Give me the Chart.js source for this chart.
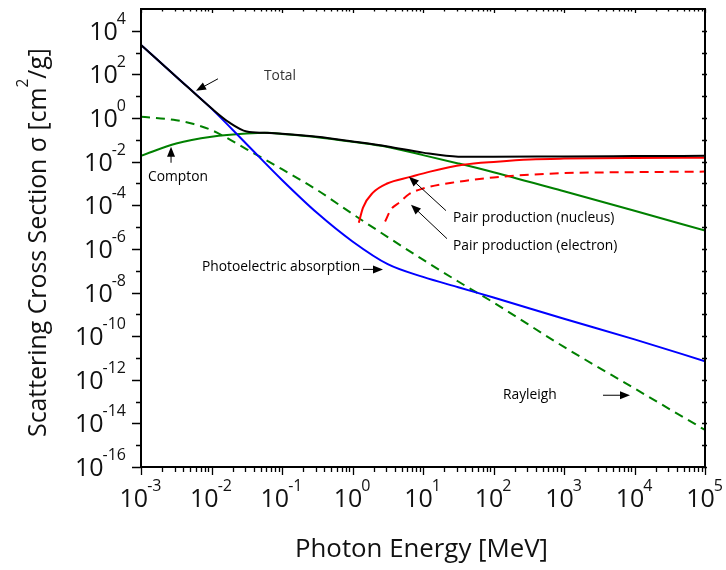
<!DOCTYPE html>
<html>
<head>
<meta charset="utf-8">
<script src="https://cdn.jsdelivr.net/npm/chart.js@4/dist/chart.umd.min.js"></script>
<style>
  html, body { margin: 0; padding: 0; background: #fff; }
  #c { display: block; }
</style>
</head>
<body>
<canvas id="c" width="726" height="570"></canvas>
<script>
// photon energy [MeV] and cross section [cm^2/g]
var eTotal = [1e-3, 3.16e-3, 1e-2, 1.78e-2, 3.16e-2, 5.62e-2, 1e-1, 3.16e-1, 1, 3.16, 10, 31.6, 100, 1e3, 1e4, 1e5]
var sTotal = [2240, 79, 2.8, 0.63, 0.24, 0.21, 0.19, 0.138, 0.085, 0.05, 0.026, 0.017, 0.0166, 0.0174, 0.018, 0.0186]

var ePhoto = [1e-3, 3.16e-3, 1e-2, 3.16e-2, 1e-1, 3.16e-1, 1, 3.16, 10, 31.6, 100, 1e3, 1e4, 1e5]
var sPhoto = [2240, 79, 2.7, 0.063, 1.45e-3, 4.4e-5, 2.2e-6, 2e-7, 5.2e-8, 1.74e-8, 5.9e-9, 6.3e-10, 7.1e-11, 7.1e-12]

var eCompton = [1e-3, 3.16e-3, 1e-2, 3.16e-2, 6.3e-2, 1e-1, 3.16e-1, 1, 3.16, 10, 31.6, 100, 1e3, 1e4, 1e5]
var sCompton = [0.0186, 0.068, 0.138, 0.195, 0.21, 0.186, 0.132, 0.081, 0.047, 0.02, 8.3e-3, 3.3e-3, 4.4e-4, 5.6e-5, 6.9e-6]

var eRayleigh = [1e-3, 3.16e-3, 5.6e-3, 1e-2, 3.16e-2, 1e-1, 3.16e-1, 1, 3.16, 10, 31.6, 100, 1e3, 1e4, 1e5]
var sRayleigh = [1.15, 0.8, 0.53, 0.28, 0.037, 4.5e-3, 5e-4, 4e-5, 3.5e-6, 3.2e-7, 3.2e-8, 3.5e-9, 3.2e-11, 4e-13, 5e-15]

var ePairN = [1.23, 1.41, 1.95, 3.1, 6.6, 12.6, 37, 112, 331, 1e3, 1e4, 1e5]
var sPairN = [1.6e-5, 7.9e-5, 3.8e-4, 1e-3, 2e-3, 3.5e-3, 7.2e-3, 0.01, 0.0126, 0.0138, 0.0148, 0.0151]

var ePairE = [2.9, 3.5, 4.7, 6.3, 10, 31.6, 100, 316, 1e3, 1e4, 1e5]
var sPairE = [1.8e-5, 6.3e-5, 1.4e-4, 3.2e-4, 5.9e-4, 1.2e-3, 1.9e-3, 2.5e-3, 3e-3, 3.3e-3, 3.5e-3]

// decades shown on the axes
var xDecades = [-3, -2, -1, 0, 1, 2, 3, 4, 5]
var yDecades = [-16, -14, -12, -10, -8, -6, -4, -2, 0, 2, 4]

// labels with arrows, positions in data units (log10 E, log10 sigma)
var notes = [
  {text: "Total", at: [-1.255, 1.93], from: [-1.908, 1.80], to: [-2.22, 1.25]},
  {text: "Compton", at: [-2.90, -2.69], from: [-2.574, -2.05], to: [-2.574, -1.32]},
  {text: "Photoelectric absorption", at: [-2.135, -6.85], from: [0.149, -6.94], to: [0.433, -6.94]},
  {text: "Pair production (nucleus)", at: [1.426, -4.57], from: [1.326, -4.245], to: [0.80, -2.69]},
  {text: "Pair production (electron)", at: [1.426, -5.89], from: [1.34, -5.53], to: [0.83, -3.97]},
  {text: "Rayleigh", at: [2.135, -12.71], from: [3.553, -12.71], to: [3.936, -12.71]}
]

var FONT = '"Open Sans", "DejaVu Sans", sans-serif'

function pts(xs, ys){
  var out = []
  for(var i=0;i<xs.length;i++) out.push({x: xs[i], y: ys[i]})
  return out
}

function line(label, xs, ys, color, dash){
  return {
    label: label,
    data: pts(xs, ys),
    borderColor: color,
    borderWidth: 2,
    borderDash: dash || [],
    pointRadius: 0,
    fill: false,
    cubicInterpolationMode: "monotone"
  }
}

function powLabel(ctx, e, px, py, mode){
  ctx.font = "25px " + FONT
  var wb = ctx.measureText("10").width
  ctx.font = "16px " + FONT
  var ex = String(e)
  var we = ctx.measureText(ex).width
  var x0, by
  if(mode == "x"){ x0 = px - (wb+we)/2; by = 507 }
  else { x0 = 127 - wb - we; by = py + 9 }
  ctx.fillStyle = "#111"
  ctx.textAlign = "left"
  ctx.textBaseline = "alphabetic"
  ctx.font = "25px " + FONT
  ctx.fillText("10", x0, by)
  ctx.font = "16px " + FONT
  ctx.fillText(ex, x0 + wb - 1, by - 16)
}

function arrow(ctx, x1, y1, x2, y2){
  var a = Math.atan2(y2-y1, x2-x1)
  ctx.strokeStyle = "#000"
  ctx.fillStyle = "#000"
  ctx.lineWidth = 1
  ctx.beginPath()
  ctx.moveTo(x1, y1)
  ctx.lineTo(x2 - 6*Math.cos(a), y2 - 6*Math.sin(a))
  ctx.stroke()
  ctx.beginPath()
  ctx.moveTo(x2, y2)
  ctx.lineTo(x2 - 10*Math.cos(a) + 4*Math.sin(a), y2 - 10*Math.sin(a) - 4*Math.cos(a))
  ctx.lineTo(x2 - 10*Math.cos(a) - 4*Math.sin(a), y2 - 10*Math.sin(a) + 4*Math.cos(a))
  ctx.closePath()
  ctx.fill()
}

var deco = {
  id: "deco",
  afterDraw: function(chart){
    var ctx = chart.ctx
    var xs = chart.scales.x, ys = chart.scales.y
    var a = chart.chartArea
    var X = function(l){ return xs.getPixelForValue(Math.pow(10, l)) }
    var Y = function(l){ return ys.getPixelForValue(Math.pow(10, l)) }
    ctx.save()

    // notes
    ctx.font = "13.8px " + FONT
    ctx.fillStyle = "#333"
    ctx.textBaseline = "middle"
    ctx.textAlign = "left"
    notes.forEach(function(n){
      ctx.fillText(n.text, X(n.at[0]), Y(n.at[1]))
      arrow(ctx, X(n.from[0]), Y(n.from[1]), X(n.to[0]), Y(n.to[1]))
    })

    // frame
    ctx.strokeStyle = "#000"
    ctx.lineWidth = 2
    ctx.beginPath()
    ctx.moveTo(a.left, a.top); ctx.lineTo(a.right, a.top); ctx.lineTo(a.right, a.bottom)
    ctx.lineTo(a.left, a.bottom); ctx.closePath()
    ctx.stroke()

    // x ticks
    ctx.lineWidth = 1.3
    ctx.beginPath()
    for(var d=-3; d<=5; d++){
      for(var m=1; m<=9; m++){
        if(d==5 && m>1) break
        var px = Math.round(X(d + Math.log10(m))) + 0.5
        var len = m==1 ? 8 : 5
        ctx.moveTo(px, a.bottom); ctx.lineTo(px, a.bottom + len)
        ctx.moveTo(px, a.top); ctx.lineTo(px, a.top + (m==1 ? 4 : 2.5))
      }
    }
    // y ticks
    for(var e=-16; e<=4; e++){
      var py = Math.round(Y(e)) + 0.5
      var l2 = (e % 2 == 0) ? 9 : 5
      ctx.moveTo(a.left - l2, py); ctx.lineTo(a.left, py)
      ctx.moveTo(a.right - 3, py); ctx.lineTo(a.right + 2, py)
    }
    ctx.stroke()

    xDecades.forEach(function(d){ powLabel(ctx, d, X(d), 0, "x") })
    yDecades.forEach(function(d){ powLabel(ctx, d, 0, Y(d), "y") })

    // x title
    ctx.fillStyle = "#111"
    ctx.textAlign = "left"
    ctx.textBaseline = "alphabetic"
    var t = "Photon Energy [MeV]"
    ctx.font = "26px " + FONT
    var w = ctx.measureText(t).width
    ctx.save()
    ctx.translate(295, 557)
    ctx.scale(253 / w, 1)
    ctx.fillText(t, 0, 0)
    ctx.restore()

    // y title
    var p1 = "Scattering Cross Section \u03c3 [cm", p2 = "2", p3 = "/g]"
    ctx.font = "26px " + FONT
    var w1 = ctx.measureText(p1).width, w3 = ctx.measureText(p3).width
    ctx.font = "16px " + FONT
    var w2 = ctx.measureText(p2).width
    var tot = w1 + w2 + w3
    ctx.save()
    ctx.translate(46, 437)
    ctx.rotate(-Math.PI/2)
    ctx.scale(389 / tot, 1)
    ctx.font = "26px " + FONT
    ctx.fillText(p1, 0, 0)
    ctx.font = "16px " + FONT
    ctx.fillText(p2, w1, -18)
    ctx.font = "26px " + FONT
    ctx.fillText(p3, w1 + w2, 0)
    ctx.restore()

    ctx.restore()
  }
}

// first dataset is drawn on top
var myChart = new Chart("c", {
  type: "line",
  data: {
    datasets: [
      line("Total", eTotal, sTotal, "#000000"),
      line("Pair (nucleus)", ePairN, sPairN, "#ff0000"),
      line("Pair (electron)", ePairE, sPairE, "#ff0000", [9, 6]),
      line("Photoelectric", ePhoto, sPhoto, "#0000ff"),
      line("Compton", eCompton, sCompton, "#008000"),
      line("Rayleigh", eRayleigh, sRayleigh, "#008000", [9, 6])
    ]
  },
  options: {
    responsive: false,
    animation: false,
    devicePixelRatio: 1,
    layout: { padding: { left: 0, top: 9, right: 21, bottom: 0 } },
    plugins: { legend: { display: false }, tooltip: { enabled: false } },
    scales: {
      x: {
        type: "logarithmic", min: 1e-3, max: 1e5,
        ticks: { display: false }, grid: { display: false }, border: { display: false },
        afterFit: function(s){ s.height = 103 }
      },
      y: {
        type: "logarithmic", min: 1e-16, max: 1e5,
        ticks: { display: false }, grid: { display: false }, border: { display: false },
        afterFit: function(s){ s.width = 141 }
      }
    }
  },
  plugins: [deco]
})
</script>
</body>
</html>
